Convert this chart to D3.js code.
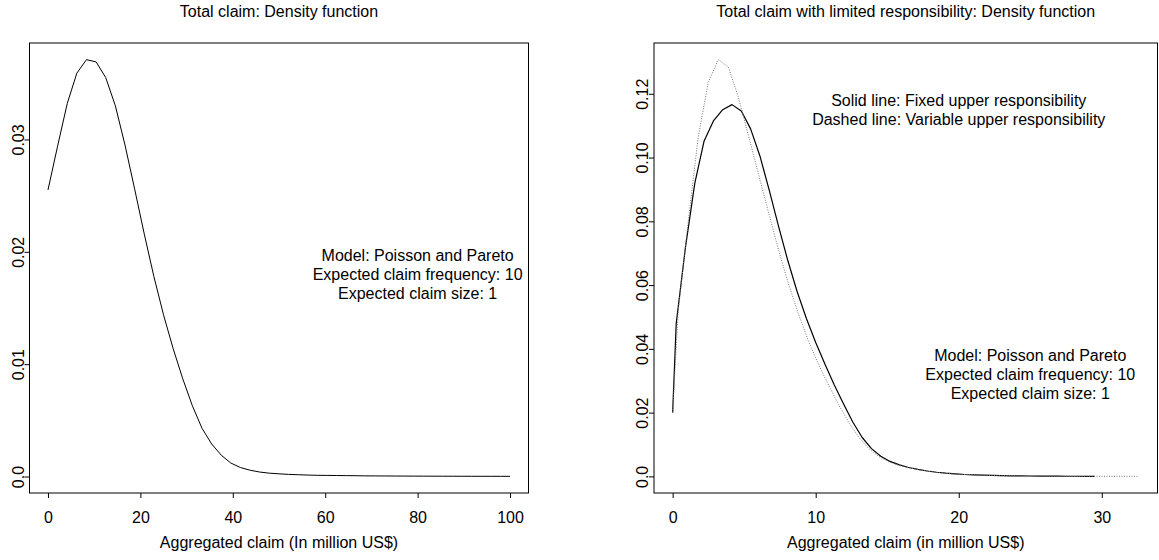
<!DOCTYPE html>
<html>
<head>
<meta charset="utf-8">
<script src="https://cdn.jsdelivr.net/npm/d3@7"></script>
<style>
  body { margin: 0; background: #fff; }
  svg text { font-family: "Liberation Sans", Arial, Helvetica, sans-serif; fill: #000; }
</style>
</head>
<body>
<svg id="chart" width="1159" height="560"></svg>
<script>
// ---- Left panel: density of the aggregate claim ----
const claimX = [0, 2.08, 4.17, 6.25, 8.33, 10.42, 12.5, 14.58, 16.67, 18.75, 20.83, 22.92, 25,
  27.08, 29.17, 31.25, 33.33, 35.42, 37.5, 39.58, 41.67, 43.75, 45.83, 47.92, 50, 52.08, 54.17,
  56.25, 58.33, 60.42, 62.5, 64.58, 66.67, 68.75, 70.83, 72.92, 75, 77.08, 79.17, 81.25, 83.33,
  85.42, 87.5, 89.58, 91.67, 93.75, 95.83, 97.92, 100];
const claimDensity = [0.0255, 0.0294, 0.0332, 0.0359, 0.0371, 0.0369, 0.0355, 0.0330, 0.0295,
  0.0256, 0.0216, 0.0178, 0.0144, 0.0114, 0.0087, 0.0063, 0.0043, 0.0029, 0.0019, 0.0012, 0.0008,
  0.00056, 0.0004, 0.0003, 0.00024, 0.00019, 0.00016, 0.00013, 0.00011, 0.0001, 0.00009,
  0.00008, 0.00007, 0.00006, 0.000055, 0.00005, 0.000045, 0.00004, 0.000037, 0.000034, 0.000031,
  0.000029, 0.000027, 0.000025, 0.000023, 0.000022, 0.00002, 0.000019, 0.000018];

// ---- Right panel: density with limited responsibility ----
const fixedX = [0, 0.25, 0.9, 1.55, 2.2, 2.85, 3.5, 4.15, 4.8, 5.45, 6.1, 6.75, 7.4, 8.05, 8.7,
  9.35, 10.0, 10.65, 11.3, 11.95, 12.6, 13.25, 13.9, 14.55, 15.2, 15.85, 16.5, 17.15, 17.8, 18.45,
  19.1, 19.75, 20.4, 21.05, 21.7, 22.35, 23.0, 23.65, 24.3, 24.95, 25.6, 26.25, 26.9, 27.55, 28.2,
  28.85, 29.5];
const fixedDensity = [0.020, 0.048, 0.072, 0.092, 0.1052, 0.1115, 0.1150, 0.1166, 0.1146, 0.1090,
  0.1005, 0.0898, 0.0785, 0.0677, 0.0580, 0.0495, 0.0420, 0.0352, 0.0287, 0.0227, 0.0170, 0.0122,
  0.0087, 0.0063, 0.0047, 0.0036, 0.0028, 0.0022, 0.0017, 0.0013, 0.0010, 0.0008, 0.0006,
  0.00047, 0.00037, 0.0003, 0.00024, 0.00019, 0.00015, 0.00012, 0.0001, 0.00008, 0.00006,
  0.00005, 0.00004, 0.00003, 0.00002];

const variableX = [0, 0.39, 1.09, 1.79, 2.49, 3.19, 3.89, 4.59, 5.29, 5.99, 6.69, 7.39, 8.09,
  8.79, 9.49, 10.19, 10.89, 11.59, 12.29, 12.99, 13.69, 14.39, 15.09, 15.79, 16.49, 17.19, 17.89,
  18.59, 19.29, 19.99, 20.69, 21.39, 22.09, 22.79, 23.49, 24.19, 24.89, 25.59, 26.29, 26.99, 27.69,
  28.39, 29.09, 29.79, 30.49, 31.19, 31.89, 32.59];
const variableDensity = [0.020, 0.052, 0.080, 0.1065, 0.1236, 0.1307, 0.1284, 0.1190, 0.1070,
  0.0950, 0.0830, 0.0712, 0.0605, 0.0510, 0.0425, 0.0352, 0.0287, 0.0226, 0.0171, 0.0124, 0.0088,
  0.0063, 0.0046, 0.0035, 0.0027, 0.0021, 0.0016, 0.0012, 0.0009, 0.0007, 0.00052, 0.0004,
  0.00031, 0.00024, 0.00019, 0.00015, 0.00012, 0.0001, 0.00008, 0.00006, 0.00005, 0.00004,
  0.00004, 0.00003, 0.00003, 0.00002, 0.00002, 0.00002];

// ---- Axis ticks and labels ----
const leftXTicks = [0, 20, 40, 60, 80, 100];
const leftYTicks = [0, 0.01, 0.02, 0.03];
const leftYLabels = ["0.0", "0.01", "0.02", "0.03"];
const rightXTicks = [0, 10, 20, 30];
const rightYTicks = [0, 0.02, 0.04, 0.06, 0.08, 0.10, 0.12];
const rightYLabels = ["0.0", "0.02", "0.04", "0.06", "0.08", "0.10", "0.12"];

// ---- Texts ----
const leftTitle = "Total claim: Density function";
const rightTitle = "Total claim with limited responsibility: Density function";
const leftXLabel = "Aggregated claim (In million US$)";
const rightXLabel = "Aggregated claim (in million US$)";
const modelNote = ["Model: Poisson and Pareto", "Expected claim frequency: 10", "Expected claim size: 1"];
const lineNote = ["Solid line: Fixed upper responsibility", "Dashed line: Variable upper responsibility"];

const svg = d3.select("#chart");
const FONT = 16, LINE_H = 19.2;

// R-style 4% range extension
function padded(vals) {
  const [lo, hi] = d3.extent(vals);
  const d = (hi - lo) * 0.04;
  return [lo - d, hi + d];
}

function panel(opts) {
  const g = svg.append("g");
  const x = d3.scaleLinear().domain(padded(opts.xs.flat())).range([opts.left, opts.right]);
  const y = d3.scaleLinear().domain(padded(opts.ys.flat())).range([opts.bottom, opts.top]);

  // x axis
  const ax = g.append("g").attr("transform", `translate(0,${opts.bottom})`)
    .call(d3.axisBottom(x).tickValues(opts.xTicks).tickSize(5).tickPadding(14)
      .tickFormat(d3.format("d")));
  ax.select(".domain").remove();
  ax.selectAll("line").attr("stroke", "#000");
  ax.selectAll("text").attr("font-size", FONT).attr("fill", "#000")
    .attr("font-family", "Liberation Sans, Arial, sans-serif");

  // y axis with labels parallel to the axis
  const ay = g.append("g").attr("transform", `translate(${opts.left},0)`)
    .call(d3.axisLeft(y).tickValues(opts.yTicks).tickSize(5)
      .tickFormat((d, i) => opts.yLabels[i]));
  ay.select(".domain").remove();
  ay.selectAll("line").attr("stroke", "#000");
  ay.selectAll("text").attr("font-size", FONT).attr("fill", "#000")
    .attr("font-family", "Liberation Sans, Arial, sans-serif")
    .attr("transform", "rotate(-90)").attr("x", 0).attr("y", -opts.yLabelGap)
    .attr("dy", 0).attr("text-anchor", "middle");

  // frame
  g.append("rect").attr("x", opts.left).attr("y", opts.top)
    .attr("width", opts.right - opts.left).attr("height", opts.bottom - opts.top)
    .attr("fill", "none").attr("stroke", "#000").attr("stroke-width", 1);

  // curves
  const line = d3.line().x(d => x(d[0])).y(d => y(d[1]));
  opts.xs.forEach((xs, k) => {
    const pts = xs.map((v, i) => [v, opts.ys[k][i]]);
    g.append("path").datum(pts).attr("d", line).attr("fill", "none")
      .attr("stroke", opts.styles[k].stroke)
      .attr("stroke-width", opts.styles[k].width)
      .attr("stroke-dasharray", opts.styles[k].dash || null)
      .attr("stroke-linejoin", "round");
  });

  const cx = (opts.left + opts.right) / 2;
  g.append("text").attr("x", cx).attr("y", 17).attr("text-anchor", "middle")
    .attr("font-size", FONT).text(opts.title);
  g.append("text").attr("x", cx).attr("y", 548).attr("text-anchor", "middle")
    .attr("font-size", FONT).text(opts.xLabel);

  // centred multi-line notes placed in data coordinates
  opts.notes.forEach(n => {
    const n0 = (n.lines.length - 1) / 2;
    n.lines.forEach((t, i) => {
      g.append("text").attr("x", x(n.x)).attr("y", y(n.y) + (i - n0) * LINE_H + 5.7)
        .attr("text-anchor", "middle").attr("font-size", FONT).text(t);
    });
  });
}

panel({
  left: 29.5, right: 528.5, top: 43, bottom: 493,
  xs: [claimX], ys: [claimDensity],
  styles: [{ stroke: "#000", width: 1 }],
  xTicks: leftXTicks, yTicks: leftYTicks, yLabels: leftYLabels, yLabelGap: 6,
  title: leftTitle, xLabel: leftXLabel,
  notes: [{ x: 80, y: 0.018, lines: modelNote }]
});

panel({
  left: 654, right: 1157.5, top: 43, bottom: 493,
  xs: [fixedX, variableX], ys: [fixedDensity, variableDensity],
  styles: [{ stroke: "#000", width: 1.2 }, { stroke: "#777", width: 1, dash: "1,1.5" }],
  xTicks: rightXTicks, yTicks: rightYTicks, yLabels: rightYLabels, yLabelGap: 6,
  title: rightTitle, xLabel: rightXLabel,
  notes: [{ x: 20, y: 0.115, lines: lineNote }, { x: 25, y: 0.032, lines: modelNote }]
});
</script>
</body>
</html>
